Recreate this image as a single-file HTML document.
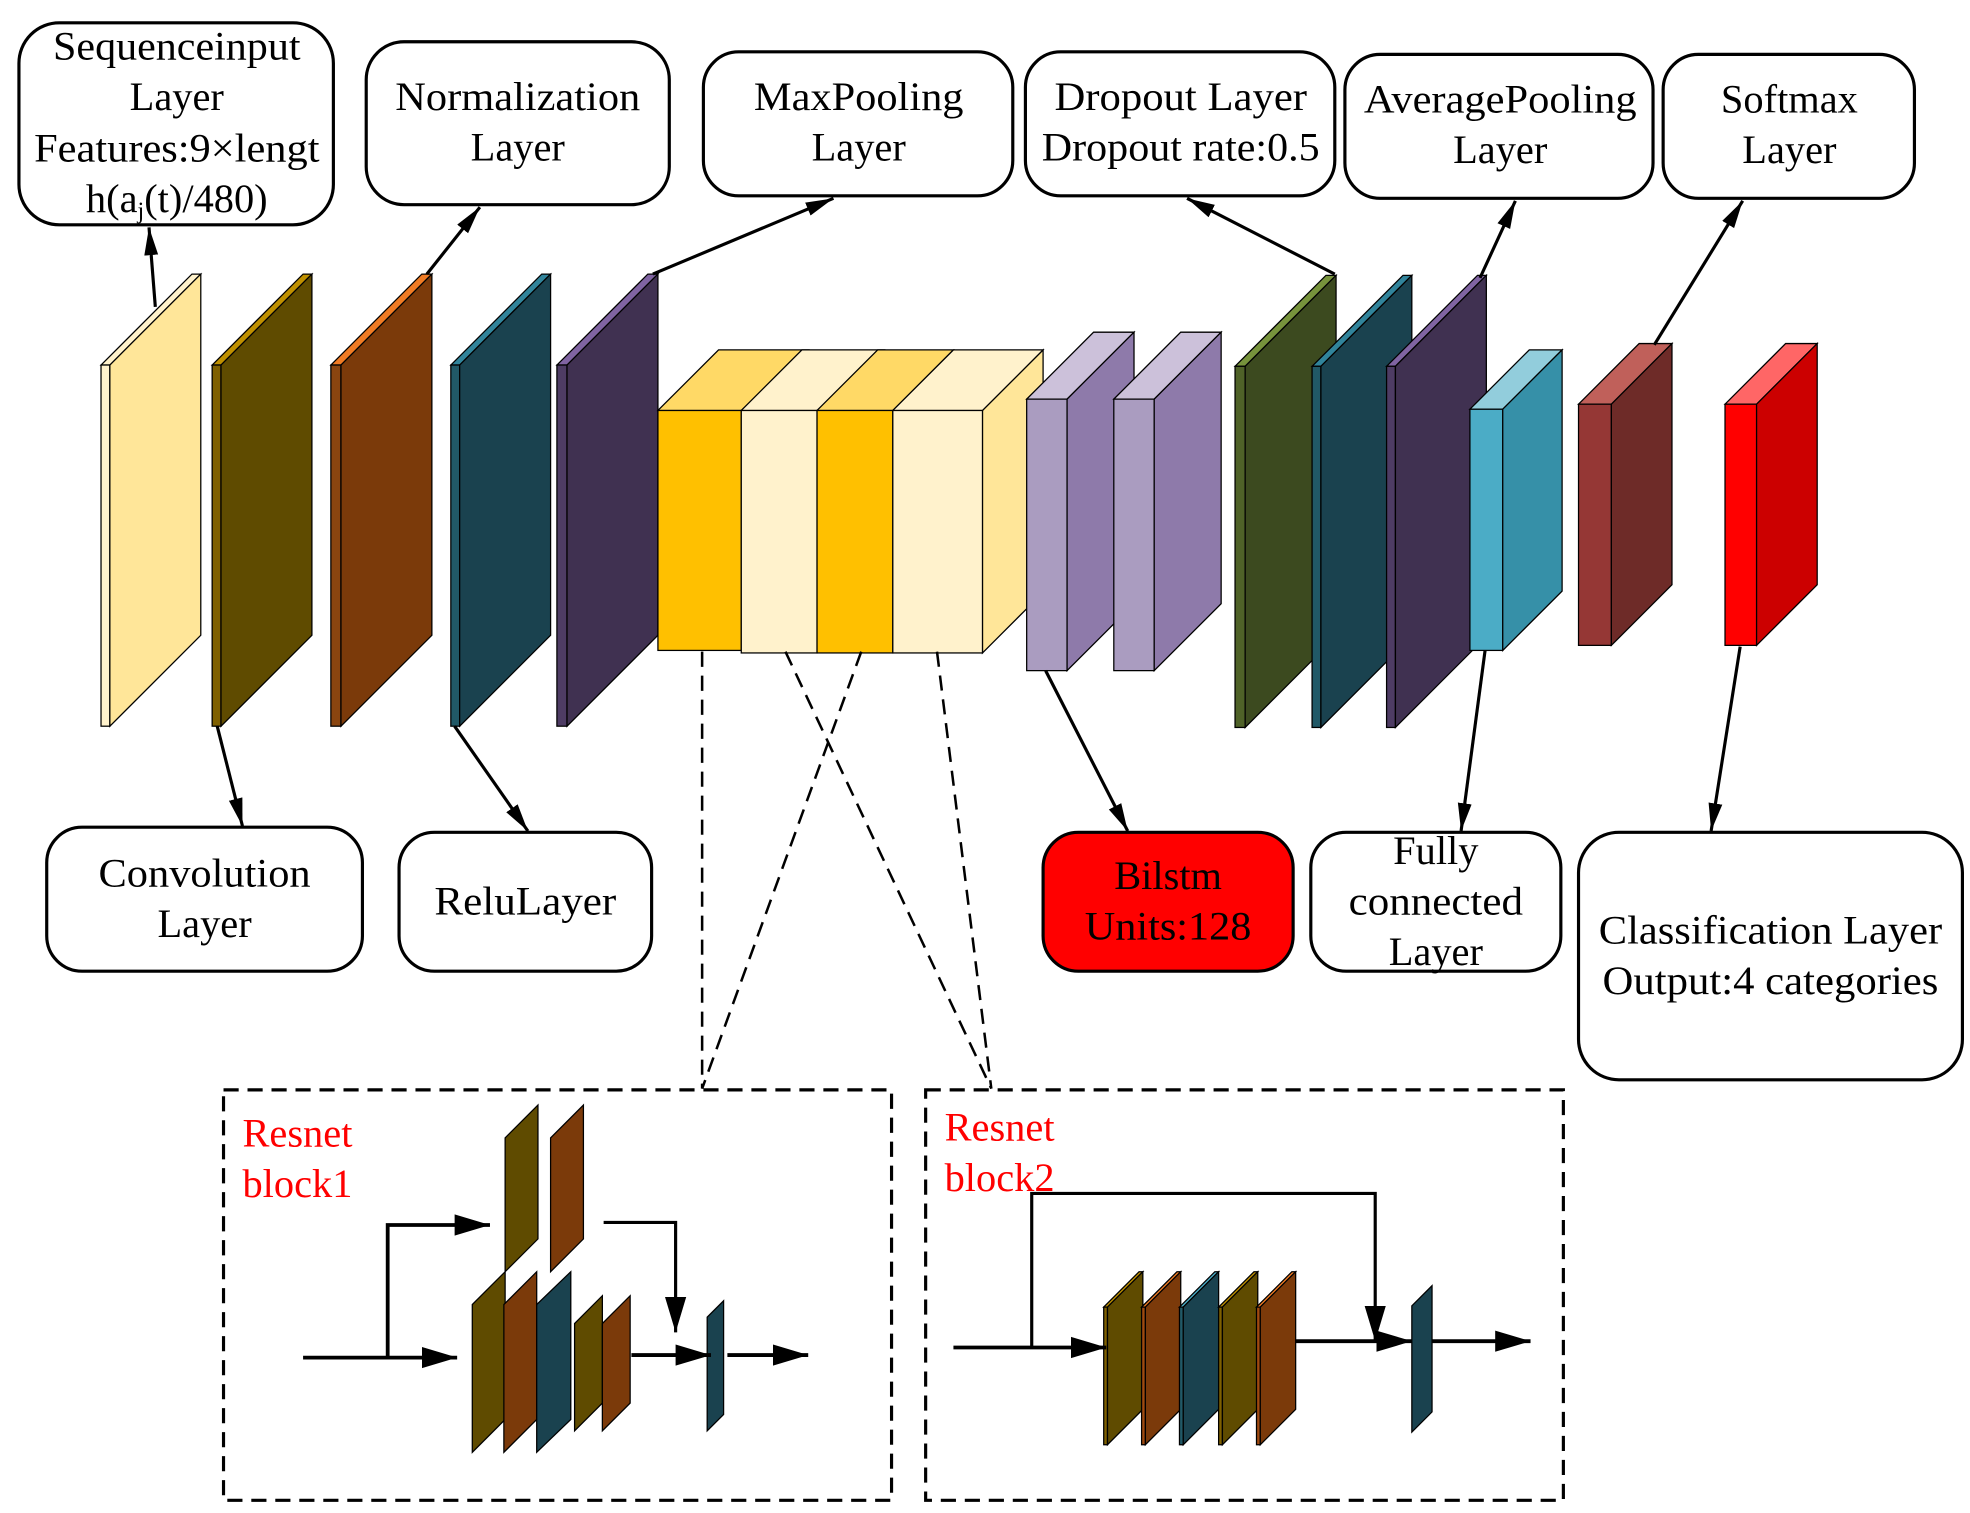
<!DOCTYPE html>
<html><head><meta charset="utf-8"><style>html,body{margin:0;padding:0;background:#fff}svg{display:block}</style></head>
<body>
<svg width="1970" height="1513" viewBox="0 0 1560 1198" xmlns="http://www.w3.org/2000/svg" font-family="Liberation Serif, serif">
<defs>
<marker id="a" viewBox="0 0 10 10" refX="10" refY="5" markerWidth="22" markerHeight="22" markerUnits="userSpaceOnUse" orient="auto"><path d="M0,2.5L10,5L0,7.5z" fill="#000"/></marker>
<marker id="b" viewBox="0 0 10 10" refX="10" refY="5" markerWidth="28" markerHeight="28" markerUnits="userSpaceOnUse" orient="auto"><path d="M0,2L10,5L0,8z" fill="#000"/></marker>
</defs>
<rect width="1560" height="1198" fill="#fff"/>
<g stroke="#000" stroke-width="1">
<polygon points="80,289 152,217 159,217 87,289" fill="#fff2cc"/><rect x="80" y="289" width="7" height="286" fill="#fff2cc"/><polygon points="87,289 159,217 159,503 87,575" fill="#ffe699"/>
<polygon points="168,289 240,217 247,217 175,289" fill="#bf9000"/><rect x="168" y="289" width="7" height="286" fill="#7f6000"/><polygon points="175,289 247,217 247,503 175,575" fill="#5f4b00"/>
<polygon points="262,289 334,217 342,217 270,289" fill="#f07b24"/><rect x="262" y="289" width="8" height="286" fill="#8a4510"/><polygon points="270,289 342,217 342,503 270,575" fill="#7b3a0a"/>
<polygon points="357,289 429,217 436,217 364,289" fill="#31849b"/><rect x="357" y="289" width="7" height="286" fill="#215967"/><polygon points="364,289 436,217 436,503 364,575" fill="#1a424f"/>
<polygon points="441,289 513,217 521,217 449,289" fill="#8064a2"/><rect x="441" y="289" width="8" height="286" fill="#4e3c64"/><polygon points="449,289 521,217 521,503 449,575" fill="#403151"/>
<polygon points="778,325 826,277 826,469 778,517" fill="#ffe699"/>
<polygon points="521,325 569,277 640,277 587,325" fill="#ffd966"/>
<polygon points="587,325 635,277 700,277 647,325" fill="#fff2cc"/>
<polygon points="647,325 695,277 755,277 707,325" fill="#ffd966"/>
<polygon points="707,325 755,277 826,277 778,325" fill="#fff2cc"/>
<rect x="521" y="325" width="66" height="190" fill="#ffc000"/>
<rect x="587" y="325" width="60" height="192" fill="#fff2cc"/>
<rect x="647" y="325" width="60" height="192" fill="#ffc000"/>
<rect x="707" y="325" width="71" height="192" fill="#fff2cc"/>
<polygon points="813,316 866,263 898,263 845,316" fill="#ccc1da"/><rect x="813" y="316" width="32" height="215" fill="#aa9cc0"/><polygon points="845,316 898,263 898,478 845,531" fill="#8e7aaa"/>
<polygon points="882,316 935,263 967,263 914,316" fill="#ccc1da"/><rect x="882" y="316" width="32" height="215" fill="#aa9cc0"/><polygon points="914,316 967,263 967,478 914,531" fill="#8e7aaa"/>
<polygon points="978,290 1050,218 1058,218 986,290" fill="#77933c"/><rect x="978" y="290" width="8" height="286" fill="#4f6228"/><polygon points="986,290 1058,218 1058,504 986,576" fill="#3c4a1f"/>
<polygon points="1039,290 1111,218 1118,218 1046,290" fill="#31849b"/><rect x="1039" y="290" width="7" height="286" fill="#215967"/><polygon points="1046,290 1118,218 1118,504 1046,576" fill="#1a424f"/>
<polygon points="1098,290 1170,218 1177,218 1105,290" fill="#8064a2"/><rect x="1098" y="290" width="7" height="286" fill="#4e3c64"/><polygon points="1105,290 1177,218 1177,504 1105,576" fill="#403151"/>
<polygon points="1164,324 1211,277 1237,277 1190,324" fill="#92cddc"/><rect x="1164" y="324" width="26" height="191" fill="#4bacc6"/><polygon points="1190,324 1237,277 1237,468 1190,515" fill="#3690a8"/>
<polygon points="1250,320 1298,272 1324,272 1276,320" fill="#c0605a"/><rect x="1250" y="320" width="26" height="191" fill="#953735"/><polygon points="1276,320 1324,272 1324,463 1276,511" fill="#6e2b28"/>
<polygon points="1366,320 1414,272 1439,272 1391,320" fill="#ff6666"/><rect x="1366" y="320" width="25" height="191" fill="#ff0000"/><polygon points="1391,320 1439,272 1439,463 1391,511" fill="#cc0000"/>
</g>
<g fill="#fff" stroke="#000" stroke-width="2.5">
<rect x="15" y="18" width="249" height="160" rx="32"/>
<rect x="290" y="33" width="240" height="129" rx="30"/>
<rect x="557" y="41" width="245" height="114" rx="28"/>
<rect x="812" y="41" width="245" height="114" rx="28"/>
<rect x="1065" y="43" width="244" height="114" rx="28"/>
<rect x="1317" y="43" width="199" height="114" rx="28"/>
<rect x="37" y="655" width="250" height="114" rx="28"/>
<rect x="316" y="659" width="200" height="110" rx="28"/>
<rect x="826" y="659" width="198" height="110" rx="28" fill="#ff0000"/>
<rect x="1038" y="659" width="198" height="110" rx="28"/>
<rect x="1250" y="659" width="304" height="196" rx="32"/>
</g>
<g font-size="32" text-anchor="middle" fill="#000">
<text x="140" y="47" textLength="196" lengthAdjust="spacingAndGlyphs">Sequenceinput</text><text x="140" y="87">Layer</text><text x="140" y="128" textLength="226" lengthAdjust="spacingAndGlyphs">Features:9×lengt</text><text x="140" y="168">h(a<tspan font-size="19" dy="5">j</tspan><tspan dy="-5">(t)/480)</tspan></text>
<text x="410" y="87" textLength="194" lengthAdjust="spacingAndGlyphs">Normalization</text><text x="410" y="127">Layer</text>
<text x="680" y="87" textLength="166" lengthAdjust="spacingAndGlyphs">MaxPooling</text><text x="680" y="127">Layer</text>
<text x="935" y="87" textLength="200" lengthAdjust="spacingAndGlyphs">Dropout Layer</text><text x="935" y="127" textLength="220" lengthAdjust="spacingAndGlyphs">Dropout rate:0.5</text>
<text x="1188" y="89" textLength="216" lengthAdjust="spacingAndGlyphs">AveragePooling</text><text x="1188" y="129">Layer</text>
<text x="1417" y="89">Softmax</text><text x="1417" y="129">Layer</text>
<text x="162" y="702" textLength="168" lengthAdjust="spacingAndGlyphs">Convolution</text><text x="162" y="742">Layer</text>
<text x="416" y="724" textLength="144" lengthAdjust="spacingAndGlyphs">ReluLayer</text>
<text x="925" y="704">Bilstm</text><text x="925" y="744" textLength="132" lengthAdjust="spacingAndGlyphs">Units:128</text>
<text x="1137" y="684">Fully</text><text x="1137" y="724" textLength="138" lengthAdjust="spacingAndGlyphs">connected</text><text x="1137" y="764">Layer</text>
<text x="1402" y="747" textLength="272" lengthAdjust="spacingAndGlyphs">Classification Layer</text><text x="1402" y="787" textLength="266" lengthAdjust="spacingAndGlyphs">Output:4 categories</text>
</g>
<g stroke="#000" stroke-width="2.5" fill="none" marker-end="url(#a)">
<line x1="123" y1="243" x2="118" y2="180"/>
<line x1="338" y1="217" x2="380" y2="164"/>
<line x1="517" y1="217" x2="660" y2="157"/>
<line x1="1057" y1="217" x2="940" y2="157"/>
<line x1="1172" y1="220" x2="1200" y2="159"/>
<line x1="1310" y1="273" x2="1380" y2="159"/>
<line x1="172" y1="575" x2="192" y2="654"/>
<line x1="360" y1="575" x2="418" y2="658"/>
<line x1="828" y1="531" x2="893" y2="658"/>
<line x1="1176" y1="515" x2="1157" y2="658"/>
<line x1="1378" y1="512" x2="1355" y2="658"/>
</g>
<g stroke="#000" stroke-width="2" stroke-dasharray="12,7" fill="none">
<line x1="556" y1="516" x2="556" y2="862"/>
<line x1="622" y1="516" x2="785" y2="862"/>
<line x1="682" y1="516" x2="556" y2="862"/>
<line x1="742" y1="516" x2="785" y2="862"/>
<rect x="177" y="863" width="529" height="325" stroke-width="2.5"/>
<rect x="733" y="863" width="505" height="325" stroke-width="2.5"/>
</g>
<g font-size="32" fill="#ff0000">
<text x="192" y="908">Resnet</text><text x="192" y="948">block1</text>
<text x="748" y="903">Resnet</text><text x="748" y="943">block2</text>
</g>
<g stroke="#000" stroke-width="1">
<polygon points="400,1007 400,901 426,875 426,981" fill="#5f4b00"/>
<polygon points="436,1007 436,901 462,875 462,981" fill="#7b3a0a"/>
<polygon points="374,1150 374,1033 400,1007 400,1124" fill="#5f4b00"/>
<polygon points="399,1150 399,1033 425,1007 425,1124" fill="#7b3a0a"/>
<polygon points="425,1150 425,1033 452,1007 452,1124" fill="#1a424f"/>
<polygon points="455,1133 455,1048 477,1026 477,1111" fill="#5f4b00"/>
<polygon points="477,1133 477,1048 499,1026 499,1111" fill="#7b3a0a"/>
<polygon points="560,1133 560,1043 573,1030 573,1120" fill="#1a424f"/>
</g>
<g stroke="#000" stroke-width="3" fill="none" marker-end="url(#b)">
<line x1="240" y1="1075" x2="362" y2="1075"/>
<polyline points="307,1075 307,970 388,970"/>
<polyline points="478,968 535,968 535,1055" stroke-width="2.5"/>
<line x1="500" y1="1073" x2="563" y2="1073"/>
<line x1="576" y1="1073" x2="640" y2="1073"/>
</g>
<g stroke="#000" stroke-width="1">
<polygon points="874,1035 902,1007 905,1007 877,1035" fill="#bf9000"/><rect x="874" y="1035" width="3" height="109" fill="#7f6000"/><polygon points="877,1035 905,1007 905,1116 877,1144" fill="#5f4b00"/>
<polygon points="904,1035 932,1007 935,1007 907,1035" fill="#f07b24"/><rect x="904" y="1035" width="3" height="109" fill="#a04a10"/><polygon points="907,1035 935,1007 935,1116 907,1144" fill="#7b3a0a"/>
<polygon points="934,1035 962,1007 965,1007 937,1035" fill="#4bacc6"/><rect x="934" y="1035" width="3" height="109" fill="#215967"/><polygon points="937,1035 965,1007 965,1116 937,1144" fill="#1a424f"/>
<polygon points="965,1035 993,1007 996,1007 968,1035" fill="#bf9000"/><rect x="965" y="1035" width="3" height="109" fill="#7f6000"/><polygon points="968,1035 996,1007 996,1116 968,1144" fill="#5f4b00"/>
<polygon points="995,1035 1023,1007 1026,1007 998,1035" fill="#f07b24"/><rect x="995" y="1035" width="3" height="109" fill="#a04a10"/><polygon points="998,1035 1026,1007 1026,1116 998,1144" fill="#7b3a0a"/>
<polygon points="1118,1134 1118,1034 1134,1018 1134,1118" fill="#1a424f"/>
</g>
<g stroke="#000" stroke-width="3" fill="none" marker-end="url(#b)">
<line x1="755" y1="1067" x2="876" y2="1067"/>
<polyline points="817,1067 817,945 1089,945 1089,1062" stroke-width="2.5"/>
<line x1="1026" y1="1062" x2="1118" y2="1062"/>
<line x1="1134" y1="1062" x2="1212" y2="1062"/>
</g>
</svg>
</body></html>
